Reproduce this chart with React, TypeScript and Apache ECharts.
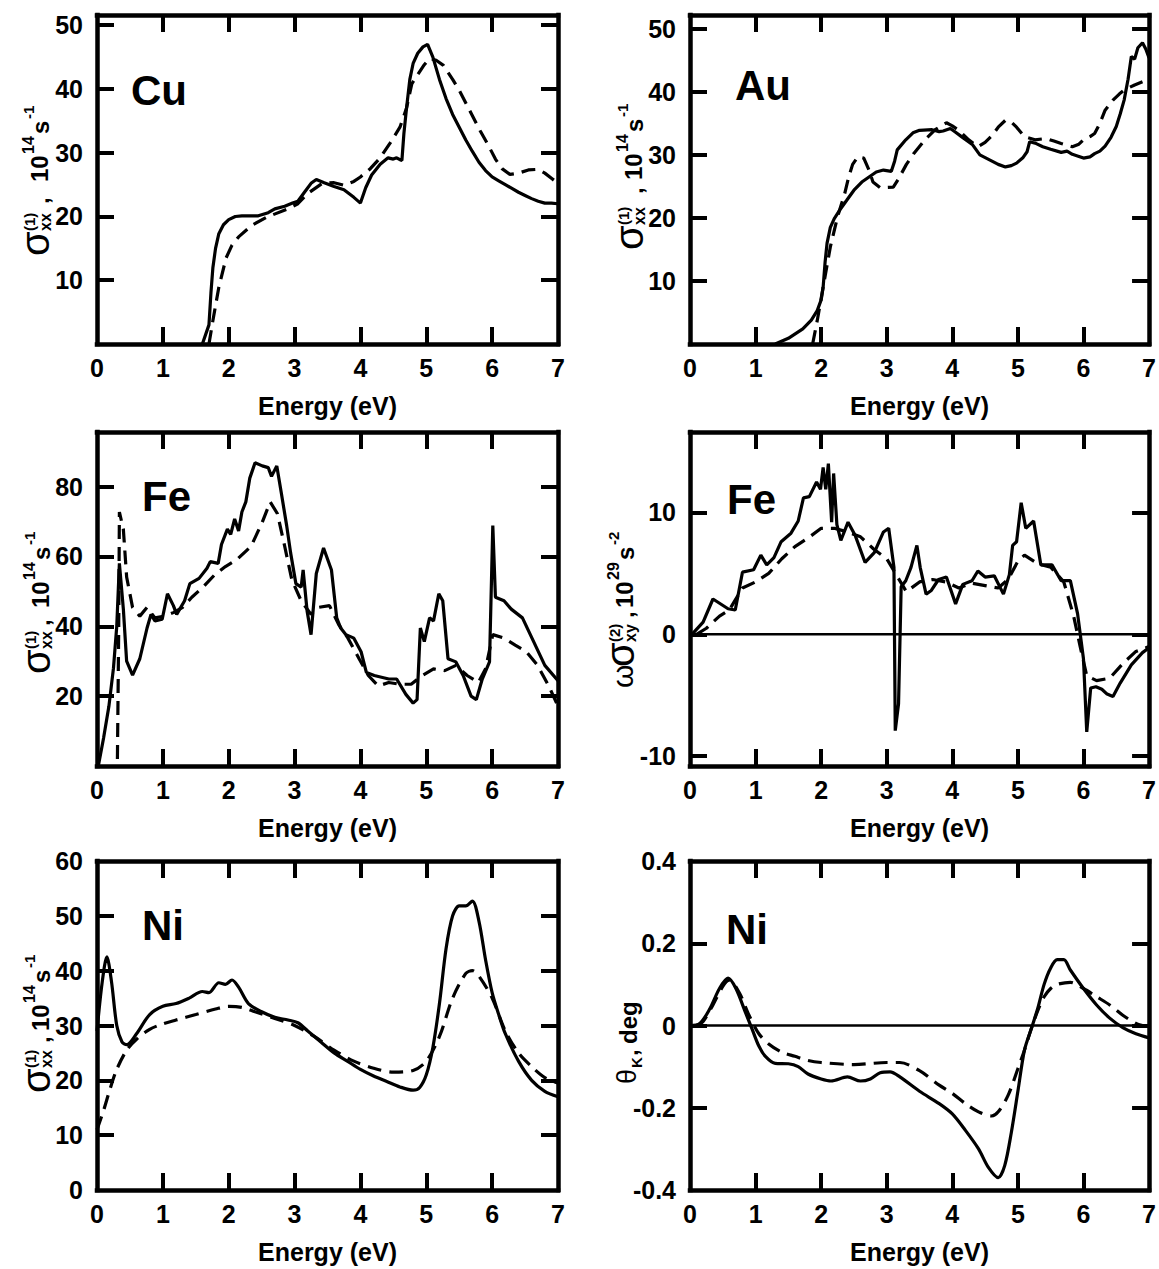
import React, { useEffect, useRef } from 'react';
import * as echarts from 'echarts';

type P = [number, number];

// ---------- data ----------
const energyTicks = [1, 2, 3, 4, 5, 6];
const energyLabels = [0, 1, 2, 3, 4, 5, 6, 7];

const cuSolid: P[] = [[1.6,0],[1.7,3],[1.73,8],[1.76,12],[1.8,15],[1.85,17.3],[1.92,18.7],[2.0,19.5],[2.1,20],[2.2,20.1],[2.45,20.1],[2.6,20.6],[2.7,21.2],[2.85,21.6],[2.97,22.1],[3.05,22.4],[3.15,23.8],[3.25,25.2],[3.33,25.8],[3.45,25.3],[3.6,24.7],[3.75,24.2],[3.9,23.0],[4.0,22.1],[4.08,24.5],[4.17,26.5],[4.3,28.2],[4.42,29.2],[4.5,29.0],[4.55,29.2],[4.6,28.9],[4.63,28.8],[4.66,33],[4.7,37],[4.75,41.5],[4.8,44],[4.87,45.6],[4.95,46.6],[5.02,47],[5.1,45],[5.2,41.5],[5.3,38.5],[5.4,36],[5.5,34],[5.6,32],[5.7,30.2],[5.8,28.5],[5.9,27.2],[6.0,26.2],[6.1,25.6],[6.2,25],[6.3,24.4],[6.4,23.8],[6.5,23.3],[6.6,22.8],[6.7,22.4],[6.8,22.1],[6.9,22.1],[7.0,22.0]];
const cuDashed: P[] = [[1.7,0],[1.76,3.7],[1.85,8.9],[1.96,13.5],[2.05,15.5],[2.15,16.8],[2.35,18.6],[2.58,19.9],[2.9,21.2],[3.05,22.0],[3.2,23.6],[3.42,25.2],[3.6,25.3],[3.75,24.9],[3.9,25.5],[4.0,26.2],[4.15,27.5],[4.3,29.2],[4.45,31.5],[4.6,34],[4.7,37],[4.78,40.8],[4.88,42.4],[4.97,43.8],[5.05,44.8],[5.15,44.5],[5.26,43.7],[5.4,41.5],[5.5,39.8],[5.6,37.8],[5.71,35.6],[5.82,33.4],[5.94,31.2],[6.05,29],[6.15,27.5],[6.27,26.6],[6.4,26.8],[6.55,27.3],[6.7,27.4],[6.8,26.8],[6.9,26],[7.0,25.2]];

const auSolid: P[] = [[1.3,0],[1.5,0.9],[1.72,2.4],[1.85,3.8],[1.94,5.3],[2.0,7],[2.03,9],[2.06,13],[2.09,16],[2.14,18.5],[2.2,19.9],[2.3,21.5],[2.39,22.8],[2.5,24.4],[2.62,25.7],[2.73,26.5],[2.84,27.3],[2.95,27.6],[3.07,27.4],[3.12,29],[3.16,30.8],[3.29,32.4],[3.4,33.5],[3.5,33.9],[3.69,34],[3.8,33.7],[3.86,33.8],[3.97,34.2],[4.05,33.6],[4.14,32.9],[4.31,31.6],[4.42,30],[4.59,29.1],[4.7,28.5],[4.81,28.1],[4.9,28.3],[4.98,28.7],[5.08,29.6],[5.14,30.5],[5.18,32.1],[5.28,31.8],[5.38,31.3],[5.5,30.9],[5.66,30.4],[5.75,30.6],[5.83,30.1],[5.92,29.8],[6.0,29.5],[6.1,29.7],[6.17,30.2],[6.25,30.6],[6.33,31.4],[6.42,32.8],[6.5,34.5],[6.56,36.5],[6.62,38.7],[6.68,42],[6.73,45.6],[6.78,45.2],[6.83,47],[6.9,47.8],[6.95,46.8],[7.0,45.4]];
const auDashed: P[] = [[1.87,0],[1.94,3.7],[2.03,9],[2.14,15.4],[2.25,20.2],[2.36,23.9],[2.42,26.5],[2.48,28.5],[2.56,29.7],[2.65,29.5],[2.73,27.6],[2.79,25.7],[2.9,24.8],[3.1,24.9],[3.18,26.2],[3.3,28.5],[3.41,30.2],[3.6,32.6],[3.74,34],[3.91,35.1],[4.0,34.6],[4.1,33.9],[4.25,32.4],[4.39,31.3],[4.5,32],[4.6,33],[4.7,34.4],[4.81,35.5],[4.9,35.2],[4.98,34.4],[5.1,32.9],[5.26,32.4],[5.43,32.6],[5.55,32.2],[5.66,31.8],[5.83,31.3],[5.93,31.7],[6.0,32.4],[6.1,32.9],[6.17,33.4],[6.25,35],[6.33,37.1],[6.45,38.7],[6.55,39.7],[6.62,40.3],[6.78,41.1],[6.9,41.6]];

const feSolid: P[] = [[0.02,0],[0.1,8],[0.18,17],[0.25,28],[0.3,40],[0.34,58],[0.4,45],[0.45,30],[0.54,26],[0.65,30.7],[0.76,39.5],[0.82,43.4],[0.88,41.5],[0.99,42],[1.07,49.3],[1.16,45.9],[1.21,43.4],[1.33,47.3],[1.41,52.2],[1.55,53.7],[1.67,56.6],[1.72,58.5],[1.84,58],[1.89,63.4],[1.98,67.8],[2.03,66.3],[2.09,70.7],[2.15,67.3],[2.2,72.7],[2.26,75.6],[2.32,82.4],[2.4,86.8],[2.51,85.9],[2.6,85.4],[2.65,82.9],[2.73,85.9],[2.8,78],[2.88,68.8],[2.94,61],[3.02,52.2],[3.1,51.2],[3.13,56.1],[3.19,44.4],[3.25,37.6],[3.33,55.1],[3.44,62.4],[3.56,56.1],[3.64,42.4],[3.7,39.5],[3.78,37.6],[3.9,36.6],[4.01,32.7],[4.09,26.8],[4.21,25.9],[4.32,25.4],[4.43,24.9],[4.55,24.9],[4.69,20.5],[4.8,18],[4.86,19],[4.91,39.5],[4.97,35.6],[5.05,42.4],[5.11,41.5],[5.19,49.3],[5.25,47.3],[5.33,30.7],[5.45,29.8],[5.56,25.9],[5.68,20],[5.76,19],[5.85,24.9],[5.96,29.8],[6.01,68.8],[6.05,48.3],[6.18,47.3],[6.29,44.9],[6.46,42.4],[6.63,35.6],[6.8,28.8],[7.0,24.4]];
const feDashed: P[] = [[0.31,2],[0.33,40],[0.34,72.7],[0.4,67.8],[0.45,54.1],[0.54,45.4],[0.65,42.9],[0.76,45.4],[0.88,42.4],[1.02,42.9],[1.16,43.9],[1.3,45.4],[1.44,48.3],[1.61,51.2],[1.78,54.6],[1.95,57.1],[2.12,59],[2.34,62.9],[2.51,69.8],[2.63,75.6],[2.74,72.2],[2.85,62.9],[2.96,53.2],[3.1,47.3],[3.25,43.4],[3.36,45.4],[3.53,45.9],[3.67,40.5],[3.81,36.6],[3.98,30.7],[4.12,25.9],[4.27,22.9],[4.43,23.9],[4.6,23.4],[4.77,23.4],[4.94,25.9],[5.11,27.8],[5.28,27.3],[5.45,28.8],[5.62,25.9],[5.79,23.9],[5.9,27.8],[6.01,37.6],[6.18,36.6],[6.35,34.6],[6.52,32.7],[6.69,28.8],[6.86,22.9],[7.0,17.1]];

const feXySolid: P[] = [[0.03,0],[0.2,1],[0.35,2.9],[0.58,2.1],[0.69,2],[0.8,5.1],[0.97,5.3],[1.08,6.5],[1.17,5.7],[1.28,6.3],[1.39,7.6],[1.54,8.3],[1.65,9.3],[1.73,11.2],[1.82,11.3],[1.93,12.5],[1.99,11.9],[2.03,13.7],[2.07,11.9],[2.11,14],[2.16,9.2],[2.19,13.2],[2.24,9],[2.3,7.7],[2.41,9.2],[2.52,8.1],[2.67,5.9],[2.81,6.7],[2.95,8.4],[3.03,8.7],[3.11,5.5],[3.13,-7.9],[3.18,-5.7],[3.22,3.9],[3.29,4.4],[3.37,5.5],[3.46,7.3],[3.51,5.5],[3.6,3.3],[3.68,3.6],[3.79,4.5],[3.91,4.7],[4.05,2.5],[4.16,4.1],[4.3,4.4],[4.39,5.2],[4.5,4.7],[4.64,4.8],[4.78,3.3],[4.87,4.9],[4.92,7.3],[4.98,7.6],[5.05,10.8],[5.12,8.7],[5.24,9.3],[5.35,5.7],[5.52,5.7],[5.66,4.4],[5.8,4.4],[5.91,1.7],[6.0,-2],[6.05,-8],[6.11,-4.4],[6.19,-4.3],[6.28,-4.5],[6.36,-4.9],[6.45,-5.1],[6.56,-4],[6.73,-2.5],[6.9,-1.5],[7.0,-1.1]];
const feXyDashed: P[] = [[0.1,0],[0.25,0.5],[0.45,1.5],[0.6,2],[0.8,3.8],[1.0,4.3],[1.2,5.0],[1.4,6.2],[1.6,7.2],[1.8,7.9],[2.0,8.7],[2.2,8.7],[2.4,8.4],[2.6,8.0],[2.8,7.0],[3.0,6.2],[3.3,3.5],[3.5,4.3],[3.7,4.5],[3.9,4.3],[4.1,3.8],[4.3,4.2],[4.5,4.0],[4.7,3.8],[4.85,4.5],[5.0,6.0],[5.1,6.5],[5.3,5.8],[5.5,5.5],[5.7,4.3],[5.85,1.5],[5.95,-1],[6.05,-3.4],[6.2,-3.8],[6.4,-3.6],[6.6,-2.4],[6.8,-1.4],[7.0,-1]];

const niSolid: P[] = [[0,29],[0.08,38],[0.15,42.5],[0.22,38],[0.3,30],[0.38,27],[0.45,26.5],[0.6,28.5],[0.8,32],[1.0,33.5],[1.2,34],[1.4,35],[1.6,36.2],[1.7,36],[1.85,37.8],[1.95,37.5],[2.05,38.3],[2.15,37],[2.3,34],[2.5,32.5],[2.7,31.5],[2.9,31],[3.05,30.5],[3.2,29],[3.4,27],[3.6,25],[3.8,23.5],[4.0,22],[4.2,20.8],[4.4,19.8],[4.6,18.8],[4.8,18.2],[4.9,18.7],[5.0,21],[5.1,26],[5.2,34],[5.3,44],[5.4,50],[5.5,51.8],[5.6,51.8],[5.7,52.7],[5.8,49],[5.9,42],[6.0,36],[6.1,32],[6.2,28.5],[6.4,23.5],[6.6,20],[6.8,18],[7.0,17]];
const niDashed: P[] = [[0,11],[0.1,14.5],[0.2,18.5],[0.3,22],[0.45,25.5],[0.6,27.5],[0.8,29.3],[1.0,30.3],[1.2,31],[1.5,32],[1.8,33],[2.0,33.5],[2.2,33.3],[2.4,32.5],[2.7,31.3],[3.0,30],[3.3,28],[3.6,25.5],[3.9,23.5],[4.2,22.2],[4.5,21.5],[4.8,21.8],[5.0,23.5],[5.2,28],[5.4,35],[5.6,39.5],[5.7,40],[5.8,39],[6.0,35],[6.2,29],[6.4,25],[6.6,22.5],[6.8,20.5],[7.0,19.5]];

const kerrSolid: P[] = [[0,0],[0.15,0.005],[0.3,0.04],[0.45,0.09],[0.58,0.115],[0.7,0.09],[0.85,0.03],[0.95,-0.01],[1.05,-0.05],[1.15,-0.075],[1.3,-0.092],[1.5,-0.093],[1.65,-0.1],[1.8,-0.118],[2.0,-0.13],[2.15,-0.135],[2.4,-0.125],[2.6,-0.135],[2.75,-0.13],[2.9,-0.115],[3.05,-0.113],[3.2,-0.125],[3.5,-0.16],[3.8,-0.19],[4.0,-0.215],[4.2,-0.255],[4.4,-0.3],[4.55,-0.345],[4.7,-0.37],[4.8,-0.34],[4.9,-0.26],[5.0,-0.16],[5.1,-0.06],[5.2,-0.01],[5.3,0.04],[5.4,0.1],[5.5,0.14],[5.6,0.16],[5.7,0.16],[5.8,0.135],[6.0,0.09],[6.2,0.05],[6.4,0.018],[6.6,-0.005],[6.8,-0.02],[7.0,-0.03]];
const kerrDashed: P[] = [[0.1,0],[0.2,0.01],[0.35,0.05],[0.5,0.095],[0.6,0.11],[0.75,0.08],[0.9,0.025],[1.05,-0.02],[1.2,-0.045],[1.4,-0.065],[1.6,-0.075],[1.8,-0.085],[2.0,-0.09],[2.5,-0.095],[3.0,-0.09],[3.2,-0.09],[3.5,-0.11],[3.8,-0.145],[4.0,-0.165],[4.2,-0.19],[4.4,-0.21],[4.6,-0.22],[4.7,-0.21],[4.85,-0.17],[5.0,-0.105],[5.1,-0.06],[5.2,-0.01],[5.3,0.035],[5.4,0.07],[5.5,0.09],[5.6,0.1],[5.8,0.105],[6.0,0.09],[6.2,0.07],[6.4,0.05],[6.6,0.025],[6.8,0.005],[6.9,0]];

const zeroLine: P[] = [[0, 0], [7, 0]];

const panelNames = ['Cu', 'Au', 'Fe', 'Fe', 'Ni', 'Ni'];
const yRanges: [number, number][] = [[0, 51.6], [0, 52.2], [0, 95.6], [-10.8, 16.6], [0, 60], [-0.4, 0.4]];
const yTicks: number[][] = [[10, 20, 30, 40, 50], [10, 20, 30, 40, 50], [20, 40, 60, 80], [-10, 0, 10], [10, 20, 30, 40, 50], [-0.2, 0, 0.2]];
const yLabels: number[][] = [[10, 20, 30, 40, 50], [10, 20, 30, 40, 50], [20, 40, 60, 80], [-10, 0, 10], [0, 10, 20, 30, 40, 50, 60], [-0.4, -0.2, 0, 0.2, 0.4]];

// ---------- layout ----------
const FONT = 'Liberation Sans';
const COLS = [{ left: 97, width: 461 }, { left: 690, width: 460 }];
const ROWS = [{ top: 15, height: 329 }, { top: 432, height: 334 }, { top: 861, height: 329 }];

type Seg = { t: string; L: number; y: number; size: number; bold?: boolean };

function titleGroup(x: number, y: number, segs: Seg[]) {
  return {
    type: 'group', x, y, rotation: Math.PI / 2,
    children: segs.map((s) => ({
      type: 'text', x: s.L, y: s.y,
      style: {
        text: s.t, fontSize: s.size, fontWeight: s.bold === false ? 'normal' : 'bold', fontFamily: FONT,
        fill: '#000', align: 'left', verticalAlign: 'middle', textAlign: 'left', textVerticalAlign: 'middle',
      },
    })),
  };
}

function sigmaSegs(sup: string, sub: string, exp: string, pow: string, commaL: number, tenL: number, sigL = 0): Seg[] {
  return [
    { t: 'σ', L: sigL, y: -13, size: 40, bold: false },
    { t: sup, L: sigL + 25, y: -19, size: 15 },
    { t: sub, L: sigL + 25, y: -3, size: 16 },
    { t: ',', L: commaL, y: -8, size: 24 },
    { t: '10', L: tenL, y: -8.5, size: 24 },
    { t: exp, L: tenL + 28, y: -20, size: 16 },
    { t: 's', L: tenL + 48, y: -8, size: 24 },
    { t: pow, L: tenL + 63, y: -20, size: 15 },
  ];
}

const App: React.FC = () => {
  const ref = useRef<HTMLDivElement>(null);
  useEffect(() => {
    if (!ref.current) return;
    const chart = echarts.init(ref.current, undefined, { renderer: 'svg' });

    const grids: any[] = [];
    const xAxes: any[] = [];
    const yAxes: any[] = [];
    const series: any[] = [];
    const lineAxis = { show: true, onZero: false, lineStyle: { color: '#000', width: 4.5, cap: 'square' } };
    const tickStyle = { show: true, inside: true, length: 17, lineStyle: { color: '#000', width: 4 } };
    const labelStyle = { fontSize: 25, fontWeight: 'bold', fontFamily: FONT, color: '#000' };

    for (let i = 0; i < 6; i++) {
      const c = COLS[i % 2];
      const r = ROWS[Math.floor(i / 2)];
      grids.push({ left: c.left, top: r.top, width: c.width, height: r.height });
      xAxes.push({
        type: 'value', gridIndex: i, min: 0, max: 7, position: 'bottom',
        axisLine: lineAxis, splitLine: { show: false },
        axisTick: { ...tickStyle, customValues: energyTicks },
        axisLabel: { ...labelStyle, margin: 11, customValues: energyLabels },
        name: 'Energy (eV)', nameLocation: 'middle', nameGap: 49,
        nameTextStyle: { fontSize: 25, fontWeight: 'bold', fontFamily: FONT, color: '#000' },
      });
      xAxes.push({
        type: 'value', gridIndex: i, min: 0, max: 7, position: 'top',
        axisLine: lineAxis, splitLine: { show: false },
        axisTick: { ...tickStyle, customValues: energyTicks },
        axisLabel: { show: false },
      });
      yAxes.push({
        type: 'value', gridIndex: i, min: yRanges[i][0], max: yRanges[i][1], position: 'left',
        axisLine: lineAxis, splitLine: { show: false },
        axisTick: { ...tickStyle, customValues: yTicks[i] },
        axisLabel: { ...labelStyle, margin: 14, customValues: yLabels[i] },
      });
      yAxes.push({
        type: 'value', gridIndex: i, min: yRanges[i][0], max: yRanges[i][1], position: 'right',
        axisLine: lineAxis, splitLine: { show: false },
        axisTick: { ...tickStyle, customValues: yTicks[i] },
        axisLabel: { show: false },
      });
    }

    const pairs: [P[], P[]][] = [
      [cuSolid, cuDashed], [auSolid, auDashed], [feSolid, feDashed],
      [feXySolid, feXyDashed], [niSolid, niDashed], [kerrSolid, kerrDashed],
    ];
    pairs.forEach(([s, d], i) => {
      const smooth = i >= 4 ? 0.3 : false;
      series.push({
        type: 'line', xAxisIndex: 2 * i, yAxisIndex: 2 * i, data: d, showSymbol: false, smooth,
        lineStyle: { color: '#000', width: 3.2, type: [14, 8] }, silent: true,
      });
      series.push({
        type: 'line', xAxisIndex: 2 * i, yAxisIndex: 2 * i, data: s, showSymbol: false, smooth,
        lineStyle: { color: '#000', width: 3.2 }, silent: true,
      });
    });
    [3, 5].forEach((i) => {
      series.push({
        type: 'line', xAxisIndex: 2 * i, yAxisIndex: 2 * i, data: zeroLine, showSymbol: false,
        lineStyle: { color: '#000', width: 2.5 }, silent: true,
      });
    });

    const labelPos: [number, number][] = [[131, 90], [735, 85], [142, 496], [727, 499], [142, 925], [726, 929]];
    const graphics: any[] = panelNames.map((n, i) => ({
      type: 'text', x: labelPos[i][0], y: labelPos[i][1],
      style: {
        text: n, fontSize: 42, fontWeight: 'bold', fontFamily: FONT, fill: '#000',
        align: 'left', verticalAlign: 'middle', textAlign: 'left', textVerticalAlign: 'middle',
      },
    }));

    graphics.push(titleGroup(48, 256, sigmaSegs('(1)', 'xx', '14', '-1', 52, 74)));
    graphics.push(titleGroup(642, 250, sigmaSegs('(1)', 'xx', '14', '-1', 56, 70)));
    graphics.push(titleGroup(49, 674, sigmaSegs('(1)', 'xx', '14', '-1', 48, 66)));
    graphics.push(titleGroup(49, 1093, sigmaSegs('(1)', 'xx', '14', '-1', 50, 62)));
    graphics.push(titleGroup(633, 688, [
      { t: 'ω', L: 0, y: -11, size: 30, bold: false },
      ...sigmaSegs('(2)', 'xy', '29', '-2', 70, 80, 21),
    ]));
    graphics.push(titleGroup(637, 1084, [
      { t: 'θ', L: 0, y: -10, size: 27, bold: false },
      { t: 'K', L: 16, y: -1, size: 15 },
      { t: ',', L: 28, y: -8, size: 24 },
      { t: 'deg', L: 40, y: -8.5, size: 24 },
    ]));

    chart.setOption({
      animation: false,
      backgroundColor: '#fff',
      textStyle: { fontFamily: FONT },
      grid: grids,
      xAxis: xAxes,
      yAxis: yAxes,
      series,
      graphic: graphics,
    });
    return () => chart.dispose();
  }, []);

  return <div ref={ref} style={{ position: 'fixed', left: 0, top: 0, width: 1159, height: 1269, background: '#fff' }} />;
};

export default App;
